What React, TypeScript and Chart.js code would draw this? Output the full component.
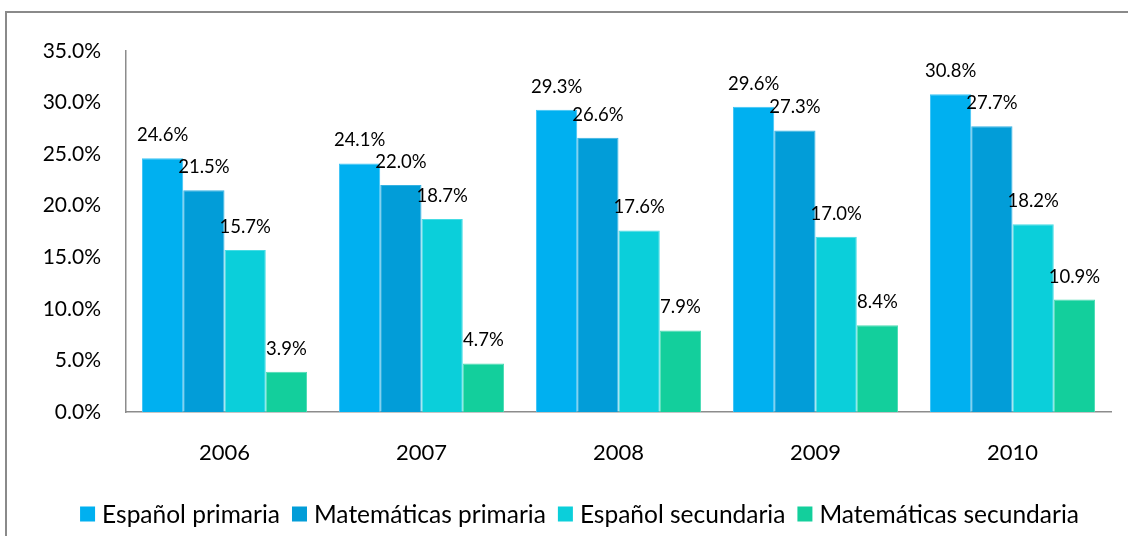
import React, { useEffect, useRef } from "react";
import { Chart, registerables } from "chart.js";

Chart.register(...registerables);

const categories = ["2006", "2007", "2008", "2009", "2010"];
const seriesNames = ["Español primaria", "Matemáticas primaria", "Español secundaria", "Matemáticas secundaria"];
const espanolPrimaria = [24.6, 24.1, 29.3, 29.6, 30.8];
const matematicasPrimaria = [21.5, 22.0, 26.6, 27.3, 27.7];
const espanolSecundaria = [15.7, 18.7, 17.6, 17.0, 18.2];
const matematicasSecundaria = [3.9, 4.7, 7.9, 8.4, 10.9];
const seriesColors = ["#00B0F0", "#029DD8", "#0BCFDA", "#13CF9C"];
const seriesBorders = ["#3DC4F5", "#35B2E2", "#45DCE4", "#4CDCB4"];
const yMax = 35;
const yStep = 5;

const FONT = "Lato, 'Open Sans', sans-serif";

const labelPlugin = {
  id: "valueLabels",
  afterDatasetsDraw(chart: any) {
    const ctx = chart.ctx;
    ctx.save();
    ctx.font = `18.5px ${FONT}`;
    ctx.fillStyle = "#000";
    ctx.textAlign = "center";
    ctx.textBaseline = "middle";
    chart.data.datasets.forEach((ds: any, i: number) => {
      const meta = chart.getDatasetMeta(i);
      meta.data.forEach((bar: any, j: number) => {
        ctx.fillText(ds.data[j].toFixed(1) + "%", bar.x, bar.y - 23);
      });
    });
    ctx.restore();
  },
};

const legendPlugin = {
  id: "customLegend",
  afterDraw(chart: any) {
    const ctx = chart.ctx;
    ctx.save();
    ctx.font = `24.5px ${FONT}`;
    ctx.textBaseline = "middle";
    ctx.textAlign = "left";
    const box = 15;
    const gapText = 7;
    const gapItem = 12;
    const items = chart.data.datasets.map((ds: any) => ({
      label: ds.label,
      color: ds.backgroundColor,
      w: ctx.measureText(ds.label).width,
    }));
    let total = 0;
    items.forEach((it: any, k: number) => {
      total += box + gapText + it.w + (k < items.length - 1 ? gapItem : 0);
    });
    let x = 579.5 - total / 2;
    const cy = 514;
    items.forEach((it: any) => {
      ctx.fillStyle = it.color;
      ctx.fillRect(x, cy - box / 2, box, box);
      ctx.fillStyle = "#000";
      ctx.fillText(it.label, x + box + gapText, cy + 1);
      x += box + gapText + it.w + gapItem;
    });
    ctx.restore();
  },
};

export default function App() {
  const ref = useRef<HTMLCanvasElement | null>(null);
  useEffect(() => {
    if (!ref.current) return;
    const values = [espanolPrimaria, matematicasPrimaria, espanolSecundaria, matematicasSecundaria];
    const chart = new Chart(ref.current, {
      type: "bar",
      data: {
        labels: categories,
        datasets: values.map((v, i) => ({
          label: seriesNames[i],
          data: v,
          backgroundColor: seriesColors[i],
          borderColor: seriesBorders[i],
          borderWidth: 1,
          categoryPercentage: 0.838,
          barPercentage: 1,
        })),
      },
      options: {
        animation: false,
        responsive: false,
        maintainAspectRatio: false,
        layout: { padding: { left: 0, right: 17, top: 51, bottom: 0 } },
        plugins: { legend: { display: false }, tooltip: { enabled: false } },
        scales: {
          x: {
            grid: { display: false, drawTicks: false },
            border: { display: true, color: "#8c8c8c", width: 1.5 },
            ticks: { font: { family: FONT, size: 22 }, color: "#000", padding: 28 },
            afterFit: (s: any) => { s.height = 124; },
          },
          y: {
            min: 0,
            max: yMax,
            grid: { display: false, drawTicks: false },
            border: { display: true, color: "#8c8c8c", width: 1.5 },
            ticks: {
              stepSize: yStep,
              font: { family: FONT, size: 21 },
              color: "#000",
              padding: 25,
              callback: (v: any) => Number(v).toFixed(1) + "%",
            },
            afterFit: (s: any) => { s.width = 126; },
          },
        },
      },
      plugins: [labelPlugin, legendPlugin],
    });
    return () => chart.destroy();
  }, []);

  return (
    <div style={{ position: "fixed", left: 0, top: 0, width: 1128, height: 536, background: "#fff", overflow: "hidden" }}>
      <div style={{ position: "absolute", left: 5, top: 11, width: 1160, height: 560, border: "2px solid #8a8a8a", boxSizing: "border-box" }} />
      <canvas ref={ref} width={1128} height={536} style={{ position: "absolute", left: 0, top: 0 }} />
    </div>
  );
}
